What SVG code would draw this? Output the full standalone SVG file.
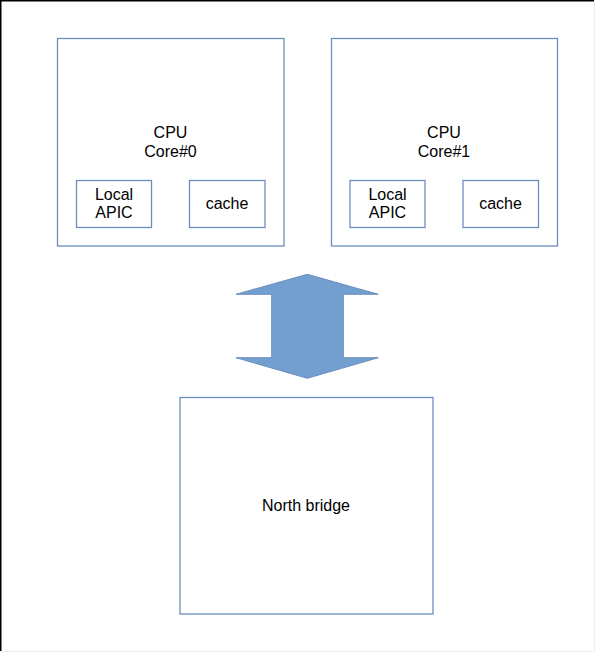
<svg xmlns="http://www.w3.org/2000/svg" width="595" height="652" viewBox="0 0 595 652">
<style>
.box{fill:#ffffff;stroke:#6c8ebf;stroke-width:1.3}
.t{font-family:"Liberation Sans",Arial,sans-serif;font-size:16px;fill:#000000;text-anchor:middle}
</style>
<rect x="0" y="0" width="595" height="652" fill="#ffffff"/>
<line x1="0" y1="0.75" x2="595" y2="0.75" stroke="#000" stroke-width="1.5"/>
<line x1="0.75" y1="0" x2="0.75" y2="652" stroke="#000" stroke-width="1.5"/>
<line x1="594.5" y1="0" x2="594.5" y2="652" stroke="#eeeeee" stroke-width="1"/>
<line x1="0" y1="651.5" x2="595" y2="651.5" stroke="#eeeeee" stroke-width="1"/>
<g id="cpu0">
<rect class="box" x="57.5" y="38.5" width="226.5" height="207.5"/>
<text class="t" x="170.5" y="138">CPU</text>
<text class="t" x="170.5" y="156.5">Core#0</text>
</g>
<g id="apic0">
<rect class="box" x="76.5" y="180.5" width="75" height="47"/>
<text class="t" x="114" y="200">Local</text>
<text class="t" x="114" y="218">APIC</text>
</g>
<g id="cache0">
<rect class="box" x="189.5" y="180.5" width="75.5" height="47"/>
<text class="t" x="227" y="209">cache</text>
</g>
<g id="cpu1">
<rect class="box" x="331.5" y="38.5" width="226" height="207.5"/>
<text class="t" x="444" y="138">CPU</text>
<text class="t" x="444" y="156.5">Core#1</text>
</g>
<g id="apic1">
<rect class="box" x="350" y="180.5" width="75" height="47"/>
<text class="t" x="387.5" y="200">Local</text>
<text class="t" x="387.5" y="218">APIC</text>
</g>
<g id="cache1">
<rect class="box" x="463" y="180.5" width="75.5" height="47"/>
<text class="t" x="500.5" y="209">cache</text>
</g>
<g id="connectors">
<polygon points="307.3,274.3 378.3,294.3 343.3,294.3 343.3,357.7 378.3,357.7 307.3,378.3 236,357.7 271.7,357.7 271.7,294.3 236,294.3" fill="#739fd0" stroke="#6c8ebf" stroke-width="1"/>
</g>
<g id="northbridge">
<rect class="box" x="180" y="397.5" width="253" height="216.5"/>
<text class="t" x="306" y="511">North bridge</text>
</g>
</svg>
